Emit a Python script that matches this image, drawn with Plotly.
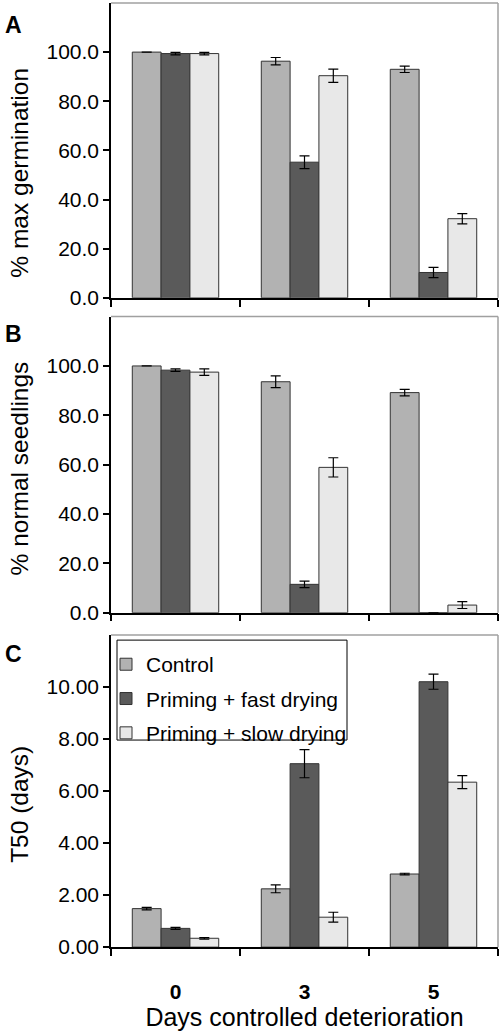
import plotly.graph_objects as go

days = ["0", "3", "5"]
series_names = ["Control", "Priming + fast drying", "Priming + slow drying"]
colors = ["#b2b2b2", "#5a5a5a", "#e8e8e8"]

germ_control = [100.0, 96.3, 93.0]
germ_fast = [99.4, 55.2, 10.3]
germ_slow = [99.4, 90.4, 32.2]
germ_control_err = [0.0, 1.5, 1.3]
germ_fast_err = [0.5, 2.6, 2.1]
germ_slow_err = [0.5, 2.7, 2.1]

seed_control = [100.0, 93.6, 89.2]
seed_fast = [98.3, 11.5, 0.0]
seed_slow = [97.5, 58.9, 3.1]
seed_control_err = [0.0, 2.4, 1.3]
seed_fast_err = [0.5, 1.3, 0.0]
seed_slow_err = [1.3, 3.9, 1.4]

t50_control = [1.48, 2.24, 2.81]
t50_fast = [0.72, 7.05, 10.20]
t50_slow = [0.34, 1.15, 6.34]
t50_control_err = [0.05, 0.15, 0.03]
t50_fast_err = [0.04, 0.54, 0.29]
t50_slow_err = [0.03, 0.19, 0.25]

pct_ticks = [0, 20, 40, 60, 80, 100]
t50_ticks = [0, 2, 4, 6, 8, 10]

panels = [
    ([germ_control, germ_fast, germ_slow], [germ_control_err, germ_fast_err, germ_slow_err]),
    ([seed_control, seed_fast, seed_slow], [seed_control_err, seed_fast_err, seed_slow_err]),
    ([t50_control, t50_fast, t50_slow], [t50_control_err, t50_fast_err, t50_slow_err]),
]

W, H = 500, 1035
FONT = "Arial, 'Liberation Sans', sans-serif"

def py(p):
    return 1 - p / H

x_dom = [111 / W, 498 / W]
y_doms = [(3, 301), (320, 619.3), (641.7, 957.3)]

fig = go.Figure()
for pi, (vals, errs) in enumerate(panels):
    xa = "x" if pi == 0 else f"x{pi+1}"
    ya = "y" if pi == 0 else f"y{pi+1}"
    for si in range(3):
        fig.add_trace(go.Bar(
            x=days, y=vals[si], name=series_names[si],
            marker=dict(color=colors[si], line=dict(color="#333333", width=1)),
            error_y=dict(type="data", array=errs[si], color="black", thickness=1.2, width=5),
            xaxis=xa, yaxis=ya, legendgroup=series_names[si],
            showlegend=(pi == 2),
        ))

layout = dict(
    width=W, height=H, margin=dict(l=0, r=0, t=0, b=0),
    paper_bgcolor="white", plot_bgcolor="white",
    barmode="group", bargap=0.33, bargroupgap=0,
    font=dict(family=FONT, size=21, color="black"),
    showlegend=True,
    legend=dict(x=106 / W, y=py(651), xanchor="left", yanchor="top",
                borderwidth=0, bgcolor="rgba(0,0,0,0)",
                font=dict(size=21), tracegroupgap=4, itemwidth=30,
                traceorder="grouped"),
)

ranges = [[0, 120], [0, 120], [0, 12]]
tickvals = [pct_ticks, pct_ticks, t50_ticks]
fmts = [".1f", ".1f", ".2f"]
for pi in range(3):
    sfx = "" if pi == 0 else str(pi + 1)
    top, bot = y_doms[pi]
    layout["xaxis" + sfx] = dict(
        domain=x_dom, anchor="y" + sfx, type="category",
        showline=True, linecolor="black", linewidth=1.5,
        ticks="outside", ticklen=7, tickcolor="black", tickwidth=1.5,
        tickson="boundaries", showgrid=False, zeroline=False,
        showticklabels=(pi == 2),
        tickfont=dict(size=21, family=FONT, weight="bold"),
        ticklabelstandoff=25,
    )
    layout["yaxis" + sfx] = dict(
        domain=[py(bot), py(top)], anchor="x" + sfx, range=ranges[pi],
        tickvals=tickvals[pi], tickformat=fmts[pi],
        showline=True, linecolor="black", linewidth=1.5,
        ticks="outside", ticklen=6, tickcolor="black", tickwidth=1.5,
        showgrid=False, zeroline=False, tickfont=dict(size=21),
    )
layout["xaxis3"]["title"] = dict(text="Days controlled deterioration",
                                  font=dict(size=25), standoff=6)

fig.update_layout(**layout)

shapes = []
for pi in range(3):
    sfx = "" if pi == 0 else str(pi + 1)
    xr = "x" + sfx + " domain"
    yr = "y" + sfx + " domain"
    shapes.append(dict(type="line", xref=xr, yref=yr, x0=0, x1=1, y0=1, y1=1,
                       line=dict(color="#a0a0a0", width=1.5)))
    shapes.append(dict(type="line", xref=xr, yref=yr, x0=1, x1=1, y0=0, y1=1,
                       line=dict(color="#a0a0a0", width=1.5)))
# legend frame
shapes.append(dict(type="rect", xref="paper", yref="paper",
                   x0=117 / W, x1=347 / W, y0=py(748), y1=py(647),
                   line=dict(color="black", width=1), fillcolor="rgba(0,0,0,0)"))
fig.update_layout(shapes=shapes)

titles = [("% max germination", 175), ("% normal seedlings", 474), ("T50 (days)", 813)]
letters = [("A", 25), ("B", 338), ("C", 661)]
ann = []
for t, yc in titles:
    ann.append(dict(text=t, x=19.5 / W, y=py(yc), xref="paper", yref="paper",
                    xanchor="center", yanchor="middle", textangle=-90,
                    showarrow=False, font=dict(size=24.5)))
for t, yc in letters:
    ann.append(dict(text="<b>" + t + "</b>", x=13 / W, y=py(yc), xref="paper", yref="paper",
                    xanchor="center", yanchor="middle", showarrow=False, font=dict(size=23)))
fig.update_layout(annotations=ann)

fig.write_html("out.html", config={"displayModeBar": False},
               post_script="document.body.style.margin='0';")
